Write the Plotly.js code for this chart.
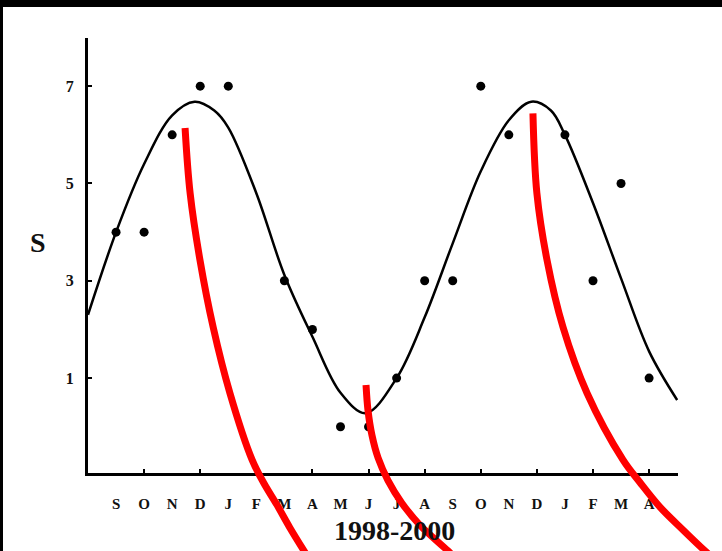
<!DOCTYPE html>
<html>
<head>
<meta charset="utf-8">
<script src="https://cdn.plot.ly/plotly-3.0.1.min.js"></script>
<style>html,body{margin:0;padding:0;background:#fff;}#chart{width:722px;height:551px;}</style>
</head>
<body>
<div id="chart"></div>
<script>
// Month tick labels (Sep 1998 .. Apr 2000), positioned by month index
const monthLabels = ['S','O','N','D','J','F','M','A','M','J','J','A','S','O','N','D','J','F','M','A'];
const monthIndex = [0,1,2,3,4,5,6,7,8,9,10,11,12,13,14,15,16,17,18,19];
const tickMarkMonths = [1,3,5,7,9,11,13,15,17,19];
const yTicks = [1,3,5,7];

// Observed S values (dots)
const obsMonth = [0,1,2,3,4,6,7,8,9,10,11,12,13,14,16,17,18,19];
const obsS     = [4,4,6,7,7,3,2,0,0,1,3,3,7,6,6,3,5,1];

// Fitted curve
const fitMonth = [-1,0,1,2,2.8,3.5,4,5,6,7,8,8.9,10,11,12,13,14,14.8,15.5,16,17,18,19,20];
const fitS     = [2.3,4.0,5.4,6.4,6.68,6.5,6.15,4.8,3.12,1.85,0.7,0.28,1.0,2.25,3.77,5.25,6.3,6.68,6.5,6.0,4.6,3.05,1.55,0.55];

// Red overlay curves (month index, S units), extend below the axis
const redA_m = [2.46,2.64,2.99,3.46,4.06,4.85,5.27,5.74,6.20,6.70,6.91];
const redA_s = [6.14,4.80,3.43,2.05,0.69,-0.68,-1.16,-1.61,-2.08,-2.55,-2.74];
const redB_m = [8.91,8.98,9.12,9.34,9.69,10.19,10.83,11.83,12.08];
const redB_s = [0.86,0.34,-0.17,-0.64,-1.10,-1.57,-2.02,-2.55,-2.70];
const redC_m = [14.86,15.00,15.36,15.93,16.79,18.07,18.67,19.39,20.21,20.99,21.24];
const redC_s = [6.44,4.80,3.43,2.05,0.69,-0.68,-1.14,-1.65,-2.12,-2.55,-2.68];

const W = 722, H = 551;
const xRange = [-1.0, 20.03];
const yRange = [-0.95, 7.99];
const xDom = [88/W, 678/W];
const yDom = [(H-473)/H, (H-38)/H];

function fullRange(r, d) {
  const k = (r[1]-r[0])/(d[1]-d[0]);
  return [r[0] - d[0]*k, r[1] + (1-d[1])*k];
}

const serif = 'Liberation Serif, Times New Roman, serif';

const traces = [
  {x: fitMonth, y: fitS, mode: 'lines', line: {color: '#000', width: 2.5, shape: 'spline', smoothing: 1}, xaxis: 'x', yaxis: 'y', hoverinfo: 'skip'},
  {x: obsMonth, y: obsS, mode: 'markers', marker: {color: '#000', size: 9}, xaxis: 'x', yaxis: 'y', cliponaxis: false},
  {x: [0], y: [-5], mode: 'markers', marker: {opacity: 0}, xaxis: 'x3', yaxis: 'y', hoverinfo: 'skip'},
  {x: redA_m, y: redA_s, mode: 'lines', line: {color: '#ff0000', width: 7, shape: 'spline'}, xaxis: 'x2', yaxis: 'y2', hoverinfo: 'skip'},
  {x: redB_m, y: redB_s, mode: 'lines', line: {color: '#ff0000', width: 7, shape: 'spline'}, xaxis: 'x2', yaxis: 'y2', hoverinfo: 'skip'},
  {x: redC_m, y: redC_s, mode: 'lines', line: {color: '#ff0000', width: 7, shape: 'spline'}, xaxis: 'x2', yaxis: 'y2', hoverinfo: 'skip'}
];

const layout = {
  width: W, height: H,
  margin: {l: 0, r: 0, t: 0, b: 0},
  paper_bgcolor: '#fff',
  plot_bgcolor: 'rgba(0,0,0,0)',
  showlegend: false,
  xaxis: {
    domain: xDom, range: xRange, anchor: 'y',
    showline: true, linecolor: '#000', linewidth: 3,
    showgrid: false, zeroline: false,
    tickmode: 'array', tickvals: monthIndex, ticktext: monthLabels,
    ticks: '', ticklabelstandoff: 15,
    tickfont: {family: serif, size: 15, color: '#111', weight: 'bold'}
  },
  xaxis3: {
    domain: xDom, range: xRange, anchor: 'y', overlaying: 'x',
    showline: false, showgrid: false, zeroline: false,
    tickmode: 'array', tickvals: tickMarkMonths,
    ticks: 'inside', ticklen: 4, tickwidth: 2, tickcolor: '#000',
    showticklabels: false
  },
  yaxis: {
    domain: yDom, range: yRange, anchor: 'x',
    showline: true, linecolor: '#000', linewidth: 3,
    showgrid: false, zeroline: false,
    tickmode: 'array', tickvals: yTicks,
    ticks: 'inside', ticklen: 4, tickwidth: 2, tickcolor: '#000',
    ticklabelstandoff: 8,
    tickfont: {family: serif, size: 16, color: '#111', weight: 'bold'}
  },
  xaxis2: {domain: [0,1], range: fullRange(xRange, xDom), anchor: 'y2', visible: false, fixedrange: true},
  yaxis2: {domain: [0,1], range: fullRange(yRange, yDom), anchor: 'x2', visible: false, fixedrange: true},
  annotations: [
    {text: 'S', xref: 'paper', yref: 'paper', x: 38/W, y: 1-242/H, xanchor: 'center', yanchor: 'middle', showarrow: false,
     font: {family: serif, size: 28, color: '#111', weight: 'bold'}},
    {text: '1998-2000', xref: 'paper', yref: 'paper', x: 394/W, y: 1-530/H, xanchor: 'center', yanchor: 'middle', showarrow: false,
     font: {family: serif, size: 28, color: '#111', weight: 'bold'}}
  ],
  shapes: [
    {type: 'rect', xref: 'paper', yref: 'paper', x0: 0, x1: 1, y0: 1-7/H, y1: 1, fillcolor: '#000', line: {width: 0}, layer: 'below'},
    {type: 'rect', xref: 'paper', yref: 'paper', x0: 0, x1: 3/W, y0: 0, y1: 1, fillcolor: '#000', line: {width: 0}, layer: 'below'}
  ]
};

Plotly.newPlot('chart', traces, layout, {staticPlot: true, displayModeBar: false});
</script>
</body>
</html>
